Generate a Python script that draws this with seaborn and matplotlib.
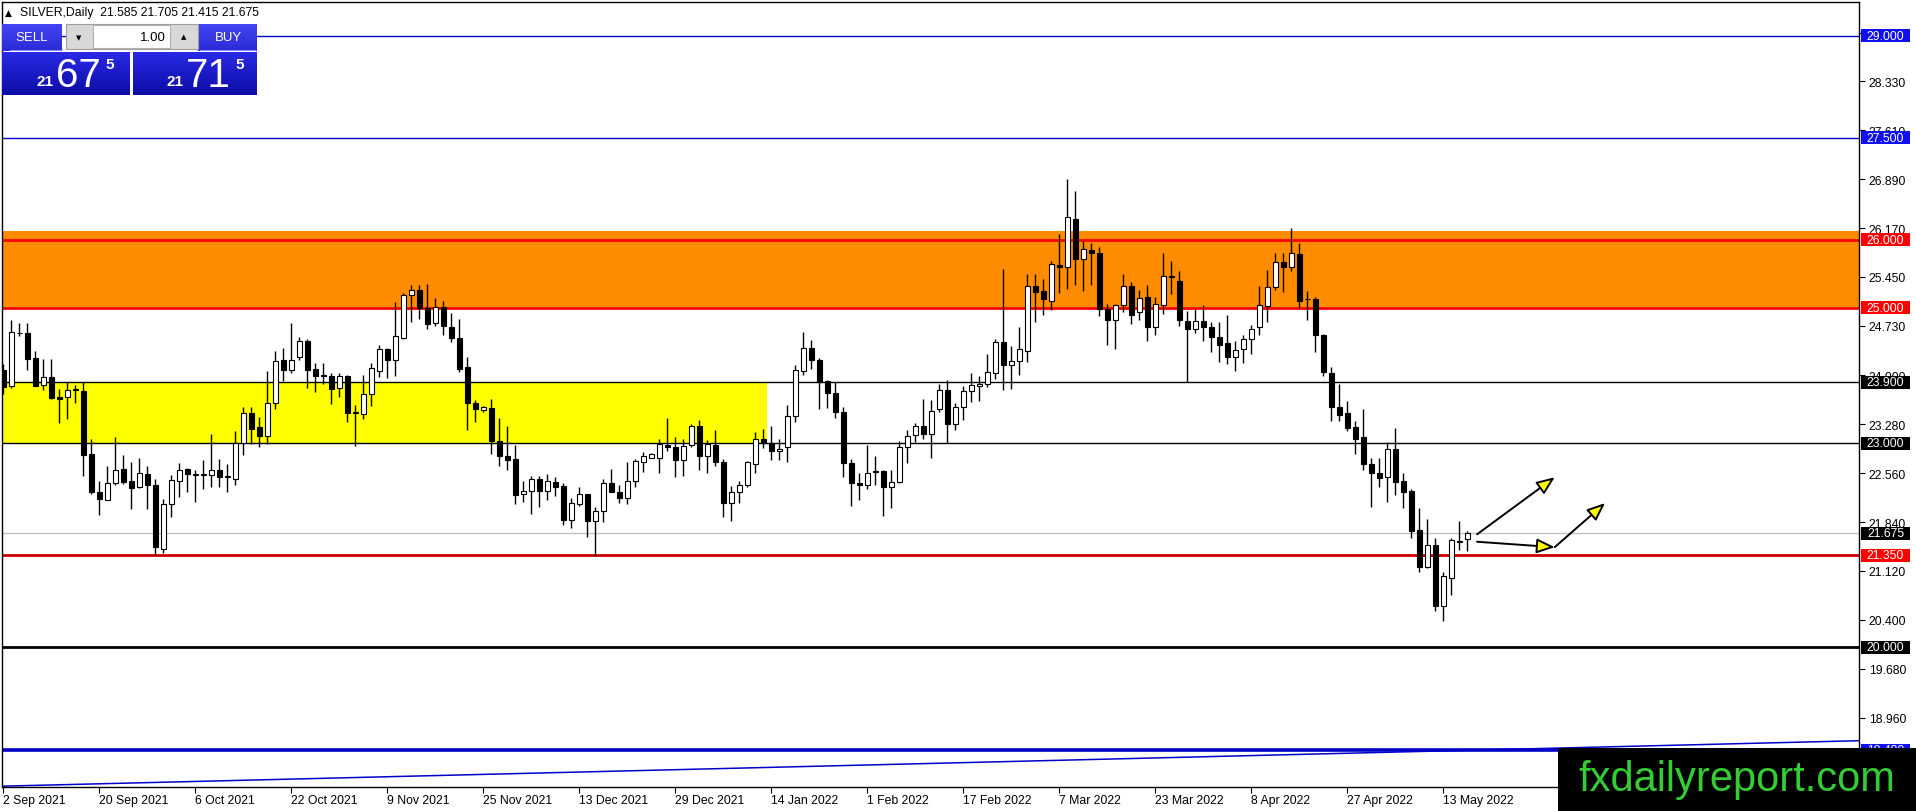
import numpy as np
import pandas as pd
import seaborn as sns
import matplotlib
matplotlib.use("Agg")
import matplotlib.pyplot as plt
import matplotlib.transforms as mtransforms
from matplotlib.patches import Rectangle
from matplotlib.colors import LinearSegmentedColormap

# daily silver candles, 2 Sep 2021 .. 18 May 2022
opens = [24.08, 23.84, 24.63, 24.625, 24.25, 23.86, 23.97, 23.68, 23.68, 23.79,
         23.77, 22.84, 22.29, 22.17, 22.41, 22.62, 22.44, 22.35, 22.55, 22.39,
         21.45, 22.10, 22.45, 22.62, 22.545, 22.55, 22.53, 22.61, 22.515, 22.48,
         23.01, 23.45, 23.24, 23.11, 23.59, 24.23, 24.08, 24.27, 24.50, 24.10,
         24.00, 23.997, 23.82, 23.99, 23.455, 23.43, 23.72, 24.07, 24.39, 24.23,
         24.55, 25.18, 25.26, 24.99, 24.77, 25.01, 24.72, 24.55, 24.12, 23.59,
         23.49, 23.52, 23.04, 22.82, 22.77, 22.25, 22.30, 22.47, 22.30, 22.43,
         22.37, 21.87, 22.10, 22.25, 21.86, 22.01, 22.41, 22.28, 22.20, 22.44,
         22.73, 22.79, 22.79, 22.98, 22.94, 22.76, 22.97, 23.25, 22.82, 22.98,
         22.73, 22.12, 22.28, 22.38, 22.70, 23.07, 23.01, 22.89, 22.94, 23.40,
         24.06, 24.40, 24.23, 23.92, 23.74, 23.46, 22.71, 22.42, 22.39, 22.585,
         22.59, 22.35, 22.43, 22.94, 23.12, 23.25, 23.13, 23.50, 23.78, 23.29,
         23.53, 23.77, 23.84, 23.87, 24.03, 24.49, 24.16, 24.21, 24.365, 25.31,
         25.24, 25.10, 25.62, 25.59, 26.31, 25.71, 25.85, 25.80, 24.98, 24.82,
         25.03, 25.32, 24.93, 25.15, 24.71, 25.03, 25.46, 25.39, 24.80, 24.69,
         24.80, 24.71, 24.56, 24.48, 24.27, 24.39, 24.53, 24.72, 25.02, 25.30,
         25.67, 25.59, 25.79, 25.13, 25.13, 24.60, 24.04, 23.54, 23.45, 23.24,
         23.09, 22.70, 22.57, 22.50, 22.92, 22.44, 22.30, 21.72, 21.18, 21.50,
         20.61, 21.02, 21.555, 21.585]
highs = [24.17, 24.82, 24.77, 24.77, 24.355, 24.24, 24.24, 23.80, 23.90, 23.86,
         23.90, 23.07, 22.45, 22.66, 23.09, 22.83, 22.73, 22.78, 22.67, 22.48,
         22.18, 22.53, 22.71, 22.63, 22.61, 22.75, 23.14, 22.77, 22.70, 23.18,
         23.53, 23.54, 23.39, 24.07, 24.36, 24.41, 24.77, 24.56, 24.53, 24.19,
         24.18, 24.04, 24.04, 24.00, 23.57, 24.00, 24.19, 24.45, 24.41, 25.08,
         25.22, 25.33, 25.33, 25.35, 25.14, 25.10, 24.92, 24.83, 24.27, 23.64,
         23.55, 23.66, 23.38, 23.26, 22.97, 22.44, 22.52, 22.52, 22.55, 22.50,
         22.42, 22.19, 22.35, 22.26, 22.06, 22.475, 22.62, 22.38, 22.72, 22.77,
         22.87, 22.86, 23.06, 23.37, 23.09, 23.06, 23.28, 23.34, 23.05, 23.20,
         22.77, 22.37, 22.45, 22.74, 23.16, 23.21, 23.26, 23.06, 23.56, 24.15,
         24.64, 24.52, 24.25, 23.93, 23.91, 23.53, 22.77, 22.57, 22.98, 22.81,
         22.60, 22.61, 23.04, 23.19, 23.30, 23.65, 23.64, 23.88, 23.93, 23.60,
         23.85, 24.04, 23.99, 24.32, 24.54, 25.57, 24.44, 24.71, 25.49, 25.49,
         25.42, 25.68, 26.09, 26.89, 26.71, 25.985, 25.95, 25.89, 25.05, 25.05,
         25.49, 25.37, 25.26, 25.33, 25.16, 25.80, 25.68, 25.54, 24.95, 24.98,
         25.04, 24.79, 24.78, 24.89, 24.51, 24.60, 24.74, 25.32, 25.56, 25.80,
         25.81, 26.17, 25.95, 25.25, 25.15, 24.61, 24.12, 23.87, 23.63, 23.33,
         23.50, 22.79, 22.78, 23.02, 23.22, 22.57, 22.32, 22.04, 21.89, 21.60,
         21.10, 21.61, 21.86, 21.705]
lows = [23.73, 23.81, 24.58, 24.085, 23.84, 23.78, 23.65, 23.30, 23.36, 23.60,
        22.52, 22.25, 21.94, 22.16, 22.39, 22.40, 22.03, 22.34, 22.03, 21.35,
        21.38, 21.92, 22.21, 22.29, 22.14, 22.32, 22.35, 22.35, 22.28, 22.39,
        22.83, 22.99, 22.94, 22.99, 23.50, 23.92, 24.04, 24.22, 23.81, 23.76,
        23.88, 23.58, 23.68, 23.32, 22.96, 23.36, 23.55, 23.97, 23.96, 23.99,
        24.54, 24.78, 24.83, 24.68, 24.73, 24.60, 24.49, 24.05, 23.20, 23.32,
        23.46, 22.84, 22.67, 22.61, 22.11, 22.14, 21.96, 22.06, 22.16, 22.23,
        21.79, 21.76, 22.07, 21.615, 21.345, 21.84, 22.28, 22.12, 22.11, 22.35,
        22.58, 22.78, 22.57, 22.89, 22.51, 22.52, 22.94, 22.60, 22.57, 22.66,
        21.92, 21.86, 22.12, 22.36, 22.56, 22.93, 22.75, 22.75, 22.73, 23.32,
        24.01, 24.09, 23.50, 23.52, 23.37, 22.51, 22.08, 22.17, 22.33, 22.39,
        21.93, 22.05, 22.41, 22.71, 23.02, 23.06, 22.79, 23.46, 23.00, 23.19,
        23.35, 23.61, 23.63, 23.83, 23.95, 23.79, 23.80, 24.01, 24.20, 24.79,
        24.89, 24.97, 25.21, 25.28, 25.33, 25.25, 25.33, 24.88, 24.45, 24.39,
        24.93, 24.76, 24.81, 24.51, 24.60, 24.90, 25.20, 24.73, 23.90, 24.63,
        24.50, 24.35, 24.20, 24.17, 24.06, 24.18, 24.32, 24.60, 24.79, 25.26,
        25.23, 25.54, 25.00, 24.82, 24.35, 23.99, 23.33, 23.33, 23.18, 22.84,
        22.61, 22.06, 22.35, 22.14, 22.24, 22.04, 21.61, 21.11, 21.17, 20.53,
        20.38, 20.77, 21.43, 21.415]
closes = [23.83, 24.635, 24.62, 24.24, 23.85, 23.97, 23.67, 23.66, 23.78, 23.80,
          22.83, 22.29, 22.18, 22.41, 22.60, 22.43, 22.34, 22.56, 22.38, 21.47,
          22.11, 22.46, 22.60, 22.55, 22.54, 22.53, 22.61, 22.50, 22.505, 23.01,
          23.44, 23.21, 23.11, 23.59, 24.21, 24.08, 24.23, 24.50, 24.08, 23.996,
          23.99, 23.80, 23.995, 23.45, 23.445, 23.73, 24.11, 24.39, 24.23, 24.58,
          25.19, 25.26, 25.00, 24.76, 25.01, 24.73, 24.55, 24.10, 23.59, 23.50,
          23.53, 23.04, 22.82, 22.76, 22.24, 22.30, 22.48, 22.30, 22.44, 22.36,
          21.87, 22.12, 22.26, 21.86, 22.01, 22.41, 22.29, 22.19, 22.44, 22.735,
          22.81, 22.85, 22.99, 22.94, 22.76, 22.96, 23.26, 22.82, 22.99, 22.73,
          22.12, 22.29, 22.39, 22.72, 23.07, 23.00, 22.89, 22.92, 23.40, 24.08,
          24.40, 24.22, 23.91, 23.74, 23.46, 22.71, 22.41, 22.39, 22.57, 22.58,
          22.36, 22.43, 22.94, 23.11, 23.25, 23.13, 23.48, 23.78, 23.29, 23.53,
          23.77, 23.86, 23.87, 24.05, 24.49, 24.16, 24.21, 24.39, 25.31, 25.23,
          25.12, 25.64, 25.59, 26.33, 25.71, 25.86, 25.80, 24.98, 24.81, 25.03,
          25.32, 24.89, 25.14, 24.71, 25.05, 25.46, 25.45, 24.81, 24.69, 24.80,
          24.72, 24.56, 24.45, 24.27, 24.38, 24.53, 24.69, 25.03, 25.30, 25.67,
          25.59, 25.80, 25.10, 25.12, 24.59, 24.05, 23.54, 23.42, 23.23, 23.06,
          22.70, 22.56, 22.49, 22.91, 22.43, 22.28, 21.71, 21.18, 21.50, 20.61,
          21.05, 21.57, 21.55, 21.675]

# horizontal levels drawn on the chart
level_prices = [29.0, 27.5, 26.0, 25.0, 23.9, 23.0, 21.35, 20.0, 18.48]
level_colors = ["#0000c8", "#0000c8", "#ff0000", "#ff0000", "#000000",
                "#000000", "#d00000", "#000000", "#0000c8"]
level_widths = [1.0, 1.0, 2.0, 2.0, 1.0, 1.0, 2.0, 2.0, 2.6]
label_colors = ["#1010f0", "#1010f0", "#ff0000", "#ff0000", "#000000",
                "#000000", "#ff0000", "#000000", "#1010f0"]
current_price = 21.675

resistance_zone = (25.0, 26.12)
support_zone = (23.0, 23.9)
support_zone_end = 95.5

trend_x = [-0.2, 232.0]
trend_y = [17.95, 18.62]

arrow_starts = [(184.2, 21.66), (184.2, 21.55), (193.9, 21.47)]
arrow_tips = [(193.9, 22.50), (193.9, 21.47), (200.2, 22.12)]

ytick_values = [18.96, 19.68, 20.40, 21.12, 21.84, 22.56, 23.28, 24.00,
                24.73, 25.45, 26.17, 26.89, 27.61, 28.33, 29.05]

title_text = "SILVER,Daily  21.585 21.705 21.415 21.675"

# trading days (Good Friday 2022 missing on this feed)
days = pd.bdate_range("2021-09-02", "2022-06-30")
days = days[days != pd.Timestamp("2022-04-15")][:len(closes)]

sns.set_theme(style="white")
plt.rcParams["font.family"] = ["Liberation Sans", "DejaVu Sans"]

W, H = 1916, 812
fig = plt.figure(figsize=(W / 100, H / 100), dpi=100)
fig.patch.set_facecolor("white")
ax = fig.add_axes([2 / W, 24 / H, 1857 / W, 785 / H])
ax.set_facecolor("white")

x = np.arange(len(closes))
o = np.array(opens)
c = np.array(closes)

# zones
ax.axhspan(*resistance_zone, color="#ff8c00", lw=0, zorder=1)
ax.fill_between([-5, support_zone_end], support_zone[0], support_zone[1],
                color="#ffff00", lw=0, zorder=1)

for p, col, lw in zip(level_prices, level_colors, level_widths):
    ax.axhline(p, color=col, lw=lw, zorder=2)
ax.axhline(current_price, color="#c0c0c0", lw=1, zorder=2)

sns.lineplot(x=trend_x, y=trend_y, color="#0000c8", lw=1.1, ax=ax, zorder=2)

# candles
ax.vlines(x, lows, highs, color="black", lw=1, zorder=3)
body_lo = np.minimum(o, c)
body_h = np.maximum(np.abs(c - o), 0.008)
body_col = np.where(c >= o, "white", "black")
ax.bar(x, body_h, bottom=body_lo, width=0.55, color=body_col,
       edgecolor="black", linewidth=0.8, zorder=4)

for s, t in zip(arrow_starts, arrow_tips):
    ax.annotate("", xy=t, xytext=s,
                arrowprops=dict(arrowstyle="-|>,head_length=1.1,head_width=0.45",
                                fc="#ffff00", ec="black", lw=1.4,
                                shrinkA=0, shrinkB=0, mutation_scale=10),
                zorder=6)

ax.set_xlim(-0.1875, 231.94)
ax.set_ylim(17.938, 29.50)

# axes styling like the terminal
for sp in ax.spines.values():
    sp.set_visible(True)
    sp.set_color("black")
    sp.set_linewidth(1)
ax.yaxis.tick_right()
ax.set_yticks(ytick_values)
ax.set_yticklabels([f"{v:.3f}" for v in ytick_values])
ax.tick_params(axis="y", right=True, left=False, length=4, width=0.8,
               pad=3, labelsize=8.8, colors="black", direction="out")
tick_idx = list(range(0, len(closes), 12))
ax.set_xticks(tick_idx)
ax.set_xticklabels([f"{days[i].day} {days[i].strftime('%b %Y')}" for i in tick_idx])
ax.tick_params(axis="x", bottom=True, length=4, width=0.8, pad=1,
               labelsize=8.8, colors="black", direction="out")
for lab in ax.get_xticklabels():
    lab.set_horizontalalignment("left")
ax.grid(False)
ax.set_xlabel("")
ax.set_ylabel("")

# price labels on the right scale
trans = mtransforms.blended_transform_factory(ax.transAxes, ax.transData)
bw = 49 / 1857
half = 6.5 * 0.01473
labels = level_prices + [current_price]
lcols = label_colors + ["#000000"]
for p, col in zip(labels, lcols):
    ax.add_patch(Rectangle((1 + 2 / 1857, p - half), bw, 2 * half, transform=trans,
                           fc=col, ec="none", clip_on=False, zorder=7))
    ax.text(1 + 2 / 1857 + bw / 2, p, f"{p:.3f}", transform=trans, ha="center",
            va="center", color="white", fontsize=8.8, clip_on=False, zorder=8)

# overlay in pixel coordinates: trade panel and watermark
ov = fig.add_axes([0, 0, 1, 1], zorder=10)
ov.patch.set_alpha(0)
ov.axis("off")
ov.set_autoscale_on(False)
ov.set_xlim(0, W)
ov.set_ylim(H, 0)


def grad_box(x0, y0, x1, y1, top, bot):
    cmap = LinearSegmentedColormap.from_list("g", [top, bot])
    ov.imshow(np.linspace(0, 1, 64).reshape(-1, 1), cmap=cmap,
              extent=(x0, x1, y1, y0), aspect="auto", interpolation="bilinear", zorder=1)


ov.text(5, 13, "\u25b2", fontsize=6.5, va="center", ha="left", color="black",
        family=["DejaVu Sans"])
ov.text(20, 13, title_text, fontsize=8.8, va="center", ha="left", color="black")

grad_box(2, 25, 62, 52, "#4444f2", "#2a2ad6")
grad_box(198, 25, 257, 52, "#4444f2", "#2a2ad6")
ov.plot([10, 62], [51, 51], color="#8888ff", lw=0.8, zorder=2)
ov.plot([200, 255], [51, 51], color="#8888ff", lw=0.8, zorder=2)
ov.text(32, 38, "SELL", color="white", fontsize=9.5, ha="center", va="center", zorder=3)
ov.text(228, 38, "BUY", color="white", fontsize=9.5, ha="center", va="center", zorder=3)

ov.add_patch(Rectangle((66, 25), 132, 25, fc="#d8d8d8", ec="#a0a0a0", lw=0.8, zorder=1))
ov.add_patch(Rectangle((93, 26), 77, 23, fc="white", ec="#b0b0b0", lw=0.8, zorder=2))
ov.text(79, 38, "\u25bc", fontsize=5, ha="center", va="center", color="black",
        family=["DejaVu Sans"], zorder=3)
ov.text(184, 37, "\u25b2", fontsize=5, ha="center", va="center", color="black",
        family=["DejaVu Sans"], zorder=3)
ov.text(166, 38, "1.00", fontsize=9.5, ha="right", va="center", color="black", zorder=3)

grad_box(2, 53, 130, 96, "#2a2ae6", "#0c0ca6")
grad_box(133, 53, 257, 96, "#2a2ae6", "#0c0ca6")
for x0, big in [(37, "67"), (167, "71")]:
    ov.text(x0, 86, "21", color="white", fontsize=11, fontweight="bold",
            ha="left", va="baseline", zorder=3)
    ov.text(x0 + 19, 87, big, color="white", fontsize=29, ha="left",
            va="baseline", zorder=3)
    ov.text(x0 + 68, 58, "5", color="white", fontsize=11, fontweight="bold",
            ha="left", va="top", zorder=3)

ov.add_patch(Rectangle((1558, 749), W - 1558, H - 749, fc="black", ec="none", zorder=5))
ov.text(1737, 780, "fxdailyreport.com", color="#33cc33", fontsize=30,
        ha="center", va="center", zorder=6)

fig.savefig("out.png", dpi=100)
